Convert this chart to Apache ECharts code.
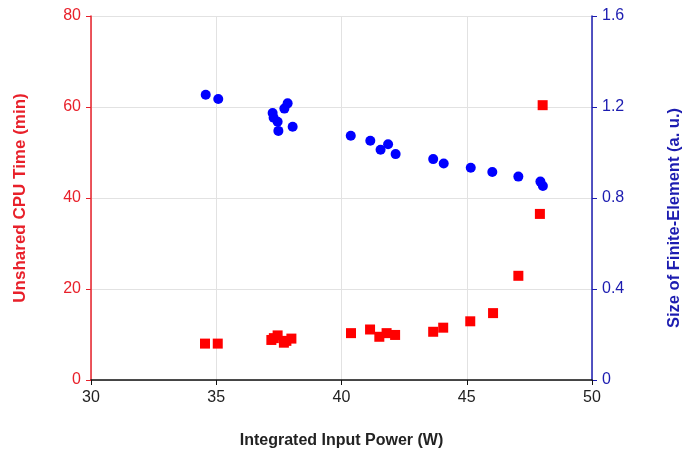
<!DOCTYPE html>
<html>
<head>
<meta charset="utf-8">
<script src="https://cdn.jsdelivr.net/npm/echarts@6/dist/echarts.min.js"></script>
<style>html,body{margin:0;padding:0;background:#fff;}#c{width:685px;height:459px;}</style>
</head>
<body>
<div id="c"></div>
<script>
// Integrated input power (W) and unshared CPU time (min)
var cpuPower = [34.55, 35.06, 37.2, 37.3, 37.45, 37.7, 37.8, 38.0, 40.38, 41.14, 41.51, 41.8, 42.14, 43.66, 44.06, 45.14, 46.05, 47.06, 47.92, 48.03];
var cpuTime  = [8.0, 8.0, 8.8, 9.2, 9.8, 8.2, 8.6, 9.1, 10.3, 11.1, 9.5, 10.3, 9.9, 10.6, 11.5, 12.9, 14.7, 22.9, 36.5, 60.4];
// Integrated input power (W) and size of finite element (a.u.)
var sizePower = [34.58, 35.08, 37.25, 37.29, 37.45, 37.48, 37.72, 37.85, 38.05, 40.37, 41.15, 41.56, 41.86, 42.16, 43.66, 44.08, 45.16, 46.02, 47.06, 47.94, 48.04];
var elemSize  = [1.254, 1.235, 1.174, 1.153, 1.135, 1.095, 1.193, 1.216, 1.113, 1.074, 1.052, 1.012, 1.036, 0.993, 0.971, 0.952, 0.933, 0.914, 0.894, 0.872, 0.853];

var cpuData = cpuPower.map(function (x, i) { return [x, cpuTime[i]]; });
var sizeData = sizePower.map(function (x, i) { return [x, elemSize[i]]; });

var FONT = 'Liberation Sans';
var RED = '#e8202a';
var BLUE = '#1c1cb0';

var chart = echarts.init(document.getElementById('c'), null, {renderer: 'canvas'});
chart.setOption({
  animation: false,
  backgroundColor: '#fff',
  grid: {left: 91, right: 93, top: 16, bottom: 79, containLabel: false, outerBoundsMode: 'none'},
  xAxis: {
    type: 'value', min: 30, max: 50, interval: 5,
    name: 'Integrated Input Power (W)', nameLocation: 'middle', nameGap: 53,
    nameTextStyle: {fontFamily: FONT, fontWeight: 'bold', fontSize: 16, color: '#222'},
    axisLine: {show: true, onZero: false, lineStyle: {color: '#111', width: 1.5}},
    axisTick: {show: true, length: 5, lineStyle: {color: '#111'}},
    axisLabel: {fontFamily: FONT, fontSize: 16, color: '#222', margin: 10},
    splitLine: {show: true, lineStyle: {color: '#e2e2e2', width: 1}}
  },
  yAxis: [{
    type: 'value', min: 0, max: 80, interval: 20, position: 'left',
    name: 'Unshared CPU Time (min)', nameLocation: 'middle', nameGap: 62, nameRotate: 90,
    nameTextStyle: {fontFamily: FONT, fontWeight: 'bold', fontSize: 17, color: RED},
    axisLine: {show: true, lineStyle: {color: RED, width: 1.5}},
    axisTick: {show: true, length: 5, lineStyle: {color: RED}},
    axisLabel: {fontFamily: FONT, fontSize: 16, color: RED, margin: 10},
    splitLine: {show: true, lineStyle: {color: '#e2e2e2', width: 1}}
  }, {
    type: 'value', min: 0, max: 1.6, interval: 0.4, position: 'right',
    name: 'Size of Finite-Element (a. u.)', nameLocation: 'middle', nameGap: 74, nameRotate: 90,
    nameTextStyle: {fontFamily: FONT, fontWeight: 'bold', fontSize: 16.5, color: BLUE, padding: [0, 40, 0, 0]},
    axisLine: {show: true, lineStyle: {color: BLUE, width: 1.5}},
    axisTick: {show: true, length: 5, lineStyle: {color: BLUE}},
    axisLabel: {fontFamily: FONT, fontSize: 16, color: BLUE, margin: 10,
      formatter: function (v) { return v === 0 ? '0' : v.toFixed(1); }},
    splitLine: {show: false}
  }],
  series: [{
    type: 'scatter', yAxisIndex: 0, data: cpuData,
    symbol: 'rect', symbolSize: 10,
    itemStyle: {color: '#ff0000', opacity: 1}
  }, {
    type: 'scatter', yAxisIndex: 1, data: sizeData,
    symbol: 'circle', symbolSize: 10,
    itemStyle: {color: '#0000ff', opacity: 1}
  }]
});
</script>
</body>
</html>
